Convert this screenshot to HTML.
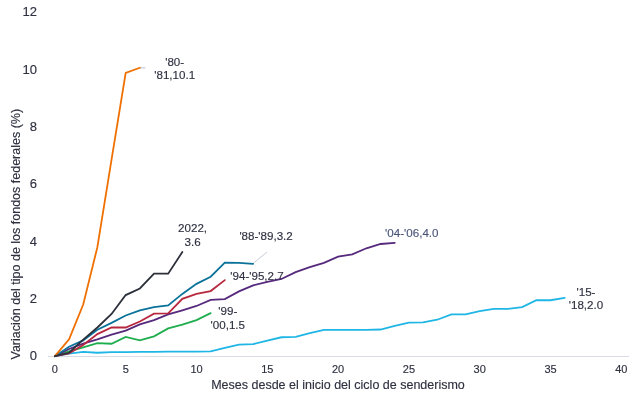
<!DOCTYPE html>
<html><head><meta charset="utf-8"><style>
html,body{margin:0;padding:0;background:#fff;}
svg{display:block;will-change:transform;}
text{font-family:"Liberation Sans",sans-serif;stroke-width:0.15px;}
.xt{stroke:#2e3140;font-size:11px;fill:#2e3140;text-anchor:middle;}
.yt{stroke:#2e3140;font-size:13px;fill:#2e3140;text-anchor:end;}
.lb{stroke:#2e3140;font-size:11.6px;fill:#2e3140;text-anchor:middle;}
.lb2{stroke:#4b5578;font-size:11.6px;fill:#4b5578;text-anchor:middle;}
.tt{stroke:#2e3140;font-size:12.5px;fill:#2e3140;text-anchor:middle;}
</style></head><body>
<svg width="640" height="405" viewBox="0 0 640 405">
<line x1="48" y1="356.5" x2="629" y2="356.5" stroke="#dadce5" stroke-width="1.1"/>
<text x="54.90" y="372.7" class="xt">0</text>
<text x="125.70" y="372.7" class="xt">5</text>
<text x="196.50" y="372.7" class="xt">10</text>
<text x="267.30" y="372.7" class="xt">15</text>
<text x="338.10" y="372.7" class="xt">20</text>
<text x="408.90" y="372.7" class="xt">25</text>
<text x="479.70" y="372.7" class="xt">30</text>
<text x="550.50" y="372.7" class="xt">35</text>
<text x="621.30" y="372.7" class="xt">40</text>
<text x="37" y="360.20" class="yt">0</text>
<text x="37" y="303.10" class="yt">2</text>
<text x="37" y="245.70" class="yt">4</text>
<text x="37" y="188.30" class="yt">6</text>
<text x="37" y="130.90" class="yt">8</text>
<text x="37" y="73.50" class="yt">10</text>
<text x="37" y="16.10" class="yt">12</text>
<line x1="139.7" y1="67.8" x2="145.5" y2="67.8" stroke="#d3d8e2" stroke-width="1.6"/>
<line x1="253.3" y1="263.3" x2="267" y2="252" stroke="#b8bfd0" stroke-width="0.8"/>
<polyline points="54.90,356.20 69.06,353.62 83.22,351.89 97.38,352.76 111.54,352.18 125.70,352.18 139.86,351.89 154.02,351.89 168.18,351.61 182.34,351.61 196.50,351.61 210.66,351.32 224.82,347.88 238.98,344.72 253.14,344.15 267.30,340.70 281.46,337.26 295.62,336.97 309.78,333.24 323.94,329.80 338.10,329.80 352.26,329.80 366.42,329.80 380.58,329.51 394.74,325.78 408.90,322.62 423.06,322.33 437.22,319.75 451.38,314.30 465.54,314.30 479.70,311.14 493.86,308.84 508.02,308.84 522.18,307.12 536.34,300.24 550.50,300.24 564.66,297.94" fill="none" stroke="#1fb6e6" stroke-width="1.8" stroke-linejoin="miter" stroke-linecap="round"/>
<polyline points="54.90,356.20 69.06,351.32 83.22,347.30 97.38,343.14 111.54,343.72 125.70,336.97 139.86,340.41 154.02,336.40 168.18,328.36 182.34,324.63 196.50,320.04 210.66,313.15" fill="none" stroke="#20ad4e" stroke-width="1.8" stroke-linejoin="miter" stroke-linecap="round"/>
<polyline points="54.90,356.20 69.06,349.02 83.22,343.57 97.38,339.41 111.54,334.68 125.70,330.66 139.86,324.34 154.02,320.04 168.18,314.30 182.34,310.28 196.50,305.97 210.66,299.95 224.82,299.09 238.98,291.34 253.14,285.31 267.30,281.87 281.46,279.00 295.62,272.11 309.78,267.23 323.94,262.93 338.10,256.61 352.26,254.31 366.42,248.29 380.58,243.98 394.74,242.83" fill="none" stroke="#56297c" stroke-width="1.8" stroke-linejoin="miter" stroke-linecap="round"/>
<polyline points="54.90,356.20 69.06,353.33 83.22,345.01 97.38,334.10 111.54,327.50 125.70,327.50 139.86,321.47 154.02,313.72 168.18,313.44 182.34,298.80 196.50,293.92 210.66,291.05 224.82,280.14" fill="none" stroke="#b7283e" stroke-width="1.8" stroke-linejoin="miter" stroke-linecap="round"/>
<polyline points="54.90,356.20 69.06,346.73 83.22,340.41 97.38,329.80 111.54,322.91 125.70,315.45 139.86,310.28 154.02,307.12 168.18,305.40 182.34,293.92 196.50,283.88 210.66,276.70 224.82,262.64 238.98,262.93 253.14,263.79" fill="none" stroke="#0b729a" stroke-width="1.8" stroke-linejoin="miter" stroke-linecap="round"/>
<polyline points="54.90,356.20 69.06,339.27 83.22,304.54 97.38,247.14 111.54,159.60 125.70,72.93 139.86,67.76" fill="none" stroke="#ef7000" stroke-width="1.8" stroke-linejoin="miter" stroke-linecap="round"/>
<polyline points="54.90,356.20 69.06,352.76 83.22,339.55 97.38,327.50 111.54,314.01 125.70,295.07 139.86,288.47 154.02,273.69 168.18,273.69 182.34,252.02" fill="none" stroke="#2c303b" stroke-width="1.8" stroke-linejoin="miter" stroke-linecap="round"/>
<text x="174.7" y="65.60" class="lb">'80-</text>
<text x="174.7" y="78.90" class="lb">'81,10.1</text>
<text x="192.6" y="231.90" class="lb">2022,</text>
<text x="192.6" y="246.10" class="lb">3.6</text>
<text x="266.1" y="240.30" class="lb">'88-'89,3.2</text>
<text x="257.0" y="279.70" class="lb">'94-'95,2.7</text>
<text x="227.8" y="315.20" class="lb">'99-</text>
<text x="227.8" y="328.50" class="lb">'00,1.5</text>
<text x="411.8" y="237.40" class="lb2">'04-'06,4.0</text>
<text x="586.0" y="295.90" class="lb">'15-</text>
<text x="586.0" y="309.00" class="lb">'18,2.0</text>
<text x="338" y="389" class="tt">Meses desde el inicio del ciclo de senderismo</text>
<text transform="translate(20.4,234.2) rotate(-90)" x="0" y="0" class="tt">Variación del tipo de los fondos federales (%)</text>
</svg>
</body></html>
